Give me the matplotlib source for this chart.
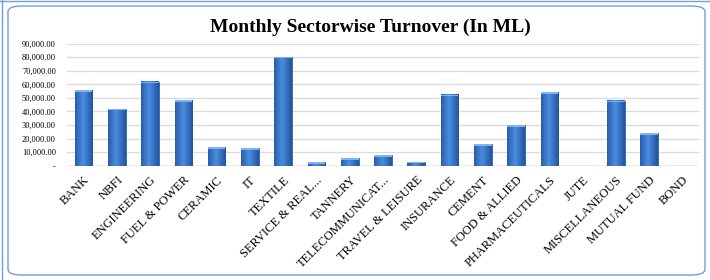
import matplotlib
matplotlib.use("Agg")
import matplotlib.pyplot as plt
import numpy as np
from matplotlib.patches import FancyBboxPatch
from matplotlib.ticker import FuncFormatter

categories = ["BANK", "NBFI", "ENGINEERING", "FUEL & POWER", "CERAMIC", "IT", "TEXTILE",
              "SERVICE & REAL...", "TANNERY", "TELECOMMUNICAT...", "TRAVEL & LEISURE",
              "INSURANCE", "CEMENT", "FOOD & ALLIED", "PHARMACEUTICALS", "JUTE",
              "MISCELLANEOUS", "MUTUAL FUND", "BOND"]
turnover = [55800, 42000, 62000, 48500, 13800, 12900, 80400,
            2500, 5400, 7900, 2900,
            52400, 16000, 29800, 54400, 100,
            48000, 24100, 0]
yticks = [0, 10000, 20000, 30000, 40000, 50000, 60000, 70000, 80000, 90000]

serif = ["Liberation Serif", "DejaVu Serif"]

fig = plt.figure(figsize=(7.1, 2.8), dpi=100)
fig.patch.set_facecolor("white")

# outer chart frame
frame = FancyBboxPatch((8 / 710, 5 / 280), 697 / 710, 269 / 280,
                       boxstyle="round,pad=0,rounding_size=0.02",
                       transform=fig.transFigure, facecolor="none",
                       edgecolor="#6f9fd8", linewidth=1.0)
fig.patches.append(frame)
fig.add_artist(plt.Line2D([0, 1], [0.995, 0.995], transform=fig.transFigure, color="#6f9fd8", lw=1))
fig.add_artist(plt.Line2D([0.003, 0.003], [0, 1], transform=fig.transFigure, color="#6f9fd8", lw=1))

ax = fig.add_axes([67 / 710, 1 - 165.7 / 280, 632 / 710, 122 / 280])
x = np.arange(len(categories))
bars = ax.bar(x, turnover, width=0.53, color="#3a78cc", edgecolor="#2d62ad",
              linewidth=0.6, zorder=3)

# gradient shading inside bars
grad = np.linspace(0, 1, 64).reshape(1, -1)
grad = 1 - np.abs(grad - 0.45) * 1.4
cmap = matplotlib.colors.LinearSegmentedColormap.from_list("b", ["#22539e", "#4a8de0"])
for b in bars:
    h = b.get_height()
    if h <= 300:
        continue
    x0 = b.get_x()
    w = b.get_width()
    ax.imshow(grad, extent=[x0, x0 + w, 0, h], aspect="auto", cmap=cmap,
              zorder=3.5, clip_path=b, clip_on=True)
    cap = min(h, 1200)
    ax.bar(b.get_x() + w / 2, cap, bottom=h - cap, width=w, color="#7fb4ee",
           edgecolor="none", zorder=4)

ax.set_xlim(-0.5, len(categories) - 0.5)
ax.set_ylim(0, 90000)
ax.set_yticks(yticks)
ax.yaxis.set_major_formatter(FuncFormatter(lambda v, p: "-" if v == 0 else f"{v:,.2f}"))
ax.grid(axis="y", color="#dcdcdc", linewidth=1.0, zorder=0)
for s in ax.spines.values():
    s.set_visible(False)
ax.axhline(0, color="#bfbfbf", linewidth=1.0, zorder=2)
ax.tick_params(axis="y", length=0, pad=8, labelsize=6)
ax.tick_params(axis="x", length=0, pad=6)
ax.set_xticks(x)
ax.set_xticklabels(categories, rotation=45, ha="right", rotation_mode="anchor",
                   fontsize=9, family=serif)
for lab in ax.get_yticklabels():
    lab.set_family(serif)

fig.text(370 / 710, 1 - 27 / 280, "Monthly Sectorwise Turnover (In ML)", ha="center", va="center",
         fontsize=14, fontweight="bold", family=serif)

fig.savefig("out.png", dpi=100)
